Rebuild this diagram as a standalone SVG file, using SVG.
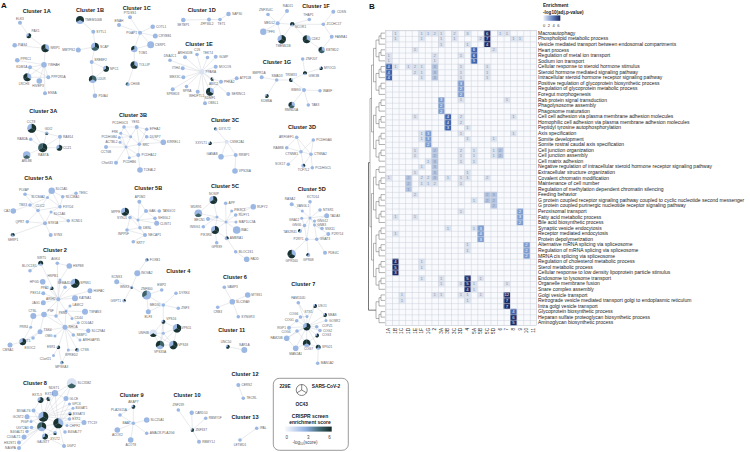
<svg xmlns="http://www.w3.org/2000/svg" width="750" height="452" viewBox="0 0 750 452">
<style>
text{font-family:"Liberation Sans",Arial,Helvetica,sans-serif}
.ttl{font-weight:bold;font-size:5.6px;fill:#1a1a1a;text-anchor:middle}
.pl{font-weight:bold;font-size:8px;fill:#111}
.ed path{stroke:#cdd1d7;stroke-width:.45;fill:none}
.nd circle{fill:#9bb7e3}
.nd circle.w{fill:#d8e2f3}
.nd text{font-size:3.2px;fill:#606469}
.nd text.m{text-anchor:middle}
.nd text.x{text-anchor:end}
.k{fill:#1b332e}
.g{fill:#3d6266}
.h1{fill:#dde4f0}.h2{fill:#b4c5e2}.h3{fill:#7d9dd2}.h4{fill:#4164ae}.h5{fill:#1c2b69}
.hv text{font-size:4.2px;text-anchor:middle;fill:#8592ad}
.hv text.w{fill:#fff}
.rl text{font-size:5px;fill:#222}
.cl text{font-size:4.6px;fill:#222;text-anchor:end}
.dg{stroke:#555;stroke-width:.45;fill:none}
.lg{font-weight:bold;font-size:4.8px;fill:#1a1a1a;text-anchor:middle}
.lt{font-size:4.5px;fill:#444;text-anchor:middle}
</style>
<defs>
<path id="wS" d="M0 0V-1A1 1 0 0 1 .866 .5Z"/>
<path id="wO" d="M0 0L.866 .5A1 1 0 0 1 -.866 .5Z"/>
<path id="w2" d="M0 0L-.866 .5A1 1 0 0 1 0 -1Z"/>
<linearGradient id="gA" x1="0" x2="1" y1="0" y2="0"><stop offset="0" stop-color="#f7f9fd"/><stop offset=".45" stop-color="#8eaee0"/><stop offset=".75" stop-color="#3f6670"/><stop offset="1" stop-color="#152a25"/></linearGradient>
<linearGradient id="gB" x1="0" x2="1" y1="0" y2="0"><stop offset="0" stop-color="#eef2f9"/><stop offset=".5" stop-color="#6c8cca"/><stop offset="1" stop-color="#17275f"/></linearGradient>
<pattern id="gp" x="385.5" y="30.3" width="6.56" height="5.57" patternUnits="userSpaceOnUse"><path d="M0 0H6.56M0 0V5.57" stroke="#c6cbd5" stroke-width=".9" fill="none"/></pattern>
</defs>
<rect width="750" height="452" fill="#fff"/>
<text class="pl" x="1" y="8">A</text>
<text class="pl" x="369" y="9">B</text>

<g id="titles">
<text class="ttl" x="36.7" y="12.7">Cluster 1A</text>
<text class="ttl" x="90" y="12.2">Cluster 1B</text>
<text class="ttl" x="136.7" y="9.5">Cluster 1C</text>
<text class="ttl" x="201.7" y="12.2">Cluster 1D</text>
<text class="ttl" x="199" y="45.5">Cluster 1E</text>
<text class="ttl" x="316" y="8">Cluster 1F</text>
<text class="ttl" x="277" y="63.8">Cluster 1G</text>
<text class="ttl" x="43.3" y="113">Cluster 3A</text>
<text class="ttl" x="133" y="117">Cluster 3B</text>
<text class="ttl" x="225" y="122">Cluster 3C</text>
<text class="ttl" x="302" y="128.7">Cluster 3D</text>
<text class="ttl" x="38.3" y="179.7">Cluster 5A</text>
<text class="ttl" x="148.3" y="189.7">Cluster 5B</text>
<text class="ttl" x="225" y="187.7">Cluster 5C</text>
<text class="ttl" x="311.7" y="191">Cluster 5D</text>
<text class="ttl" x="55" y="252">Cluster 2</text>
<text class="ttl" x="178.3" y="272.7">Cluster 4</text>
<text class="ttl" x="235" y="278.7">Cluster 6</text>
<text class="ttl" x="303.3" y="286.3">Cluster 7</text>
<text class="ttl" x="231.7" y="332">Cluster 11</text>
<text class="ttl" x="35" y="384.7">Cluster 8</text>
<text class="ttl" x="131.7" y="397">Cluster 9</text>
<text class="ttl" x="187" y="396.7">Cluster 10</text>
<text class="ttl" x="245" y="376">Cluster 12</text>
<text class="ttl" x="245" y="419.3">Cluster 13</text>
</g>

<g id="edges" class="ed">
<path d="M20 22.7L28.7 35.7L45.3 48.3M14.7 45.3L45.3 48.3L44 64.7L17.3 60.3M44 64.7L30 67.3L48.3 77.3M44 64.7L48.3 77.3M44 64.7L27.3 77.3L48.3 77.3M44 64.7L39.3 81M44 64.7L45 93.3M30 67.3L27.3 77.3"/>
<path d="M80 20L93.3 31.7L95 46.7L78.3 50M95 46.7L91.7 62L92.7 79.3L95 95.7M91.7 62L106 68.7L92.7 79.3"/>
<path d="M130 17.3L140 32.7L119 25M140 32.7L152.7 26.7M140 32.7L155.3 36M140 32.7L134.3 49L150.7 44.7M134.3 49L134.3 65L127.7 84.3M140 32.7L150.7 44.7"/>
<path d="M183.3 20L209 19.5L220 19.5L228.5 14"/>
<path d="M201.7 71.7L170 60.3M201.7 71.7L185 57.3M201.7 71.7L197 54.5M201.7 71.7L207.5 57.5M201.7 71.7L215.7 56.7M201.7 71.7L182.7 68.3M201.7 71.7L215.7 66.7M201.7 71.7L183.3 77.3M201.7 71.7L212.3 79M201.7 71.7L172.7 89.3M201.7 71.7L186.5 86.5M201.7 71.7L197.7 91.7M201.7 71.7L210 91.7M201.7 71.7L228.3 94M201.7 71.7L205 103.3M212.3 79L221 81.7L236.7 78.3M210 91.7L221 81.7M212.3 79L210 91.7"/>
<path d="M268 14.5L277.7 23.3L287 11M277.7 23.3L292.3 24.3L309.3 19.5M292.3 24.3L323.3 24.3L333.3 11.7M323.3 24.3L331.7 36.7L321.7 50M277.7 23.3L263.3 31.7M277.7 23.3L281.7 39.3M292.3 24.3L281.7 39.3M292.3 24.3L306.7 39.3L321.7 50"/>
<path d="M302.7 59L305 73.3L321 68.3M305 73.3L291 80L276.7 80L261.7 77.3M276.7 80L266.7 96M291 80L304 90L320 90.7M304 90L291.7 105M304 90L308.3 105"/>
<path d="M31.7 128.3L46.7 133.3L60 136.7L59.3 147.7L42.7 147.7L30.7 139.3M31.7 128.3L42.7 147.7M46.7 133.3L42.7 147.7L26.7 155M60 136.7L42.7 147.7"/>
<path d="M124 127L136.7 127L146.7 136.7L139.3 144.3L130.7 136.7L124 127L120.7 133.3L130.7 136.7L136.7 127L139.3 144.3L146.7 129.3L136.7 127M119.3 137.5L130.7 136.7L126 147L119.3 137.5M120 142.3L126 147L106 147M126 147L139.3 144.3L163.3 142.3M139.3 144.3L138.3 155L126 147L116 162.7M126 147L129.3 157.7L138.3 155L140 170M146.7 136.7L163.3 142.3M120.7 133.3L126 147"/>
<path d="M215.7 129L226.7 141.7L210 143.3M226.7 141.7L221 156.7L235.7 155L226.7 141.7M235.7 155L235 171"/>
<path d="M296.7 137.3L301 151.7L313.3 140L311 154.3L301 151.7L286.7 147.7M301 151.7L288.3 164.3M301 151.7L303.3 165.7L311 154.3L312.3 167.7M296.7 137.3L286.7 147.7M296.7 137.3L311 154.3"/>
<path d="M25 194.3L47.5 197.5L51.7 190.7L62.7 196.7L76 193.3M51.7 190.7L60 206.7L47.5 197.5L30 205L13.3 211M47.5 197.5L38 210.5L60 206.7L51 212L45 223.3L38 210.5L27.3 221.7L45 223.3L68.3 220.7L51 212M45 223.3L50.7 235M45 223.3L12.7 235M25 194.3L38 210.5M62.7 196.7L60 206.7M30 205L38 210.5"/>
<path d="M139.3 201.7L146 211L159.3 211M139.3 201.7L138 220L125 211.7M146 211L138 220L130 217.5L140 227.7L138 220L155 218.3L146 211M138 220L156.7 223.3L155 218.3M140 227.7L127 230L130 217.5M140 227.7L145 235L127 230M145 235L133.3 241.7"/>
<path d="M213.3 200L217 217L226 222L225.7 203.3M226 222L231.7 211L253.3 206.7L235.7 215L226 222L236 222M198.3 213.3L217 217L208 219M203.3 226.7L217 217M215 230L217 217M215 230L226 222L236.7 230M226 222L226.7 238.3L215 230L216.7 242.7M226.7 238.3L235.7 251.7L246.7 259.3M213.3 200L198.3 213.3M208 219L226 222"/>
<path d="M310 201.7L310 218L302.3 211L291.7 204.3M310 218L320 210M310 218L326.7 215.7L314.5 221M310 218L301.7 218.3L304.5 225.5L310 218L314.5 225L322 228.5L310 218M304.5 225.5L300 231M314.5 225L328.3 234L316.7 239.3L314.5 225M304.5 225.5L306.7 239.3L316.7 239.3L325 252.7M306.7 239.3L291.7 254M306.7 239.3L308.3 255M310 218L306.7 239.3M314.5 221L314.5 225"/>
<path d="M58.3 299.3L40.7 263.3M58.3 299.3L57.3 263.3M58.3 299.3L60 280M58.3 299.3L42.7 281.7M58.3 299.3L65 287.3M58.3 299.3L75 283.3M58.3 299.3L51.7 288.3M58.3 299.3L43.3 293.3M58.3 299.3L75 298.3M58.3 299.3L43.3 302.7M58.3 299.3L90 290.7M58.3 299.3L66 311M58.3 299.3L44 314.5M58.3 299.3L56 316M57.3 263.3L69.3 266M40.7 263.3L30 270.7M60 280L69.3 266M66 311L70 306M66 311L85 311.7M66 311L72 318.5M66 311L56 316M66 311L65 327.3M66 311L78.3 322.7M44 314.5L33.3 316M44 314.5L40 331.7M44 314.5L56 316M44 314.5L65 327.3M33.3 316L30.7 327.3M65 327.3L88.3 330.7M65 327.3L73.3 335M65 327.3L80 340M65 327.3L55 336M65 327.3L58.3 347.3M65 327.3L68.3 350M65 327.3L77.3 350M65 327.3L40 331.7M65 327.3L78.3 322.7M65 327.3L56 316M40 331.7L33 338M40 331.7L22.7 341.7L10 345M30.7 327.3L22.7 341.7M58.3 347.3L53.5 355.5M58.3 347.3L61.7 362.7M68.3 350L77.3 350M68.3 350L61.7 362.7"/>
<path d="M146.7 260L137.3 273.3L131.7 287.3L116.7 281.7M131.7 287.3L146.7 295L161.7 290M131.7 287.3L124 300.7M146.7 295L163.3 305L176 293.3M163.3 305L178.3 308.3M163.3 305L148.3 311.7L146.7 295M163.3 305L163.3 321.7M163.3 321.7L177 328.3L163.3 333.3L163.3 321.7L153.3 333.3L163.3 333.3L160 345L173.3 345L163.3 333.3M177 328.3L173.3 345M153.3 333.3L160 345M163.3 321.7L160 345M177 328.3L160 345M153.3 333.3L173.3 345"/>
<path d="M224.3 287.3L232.3 301.7L247.7 295M217.7 307.3L232.3 301.7L238.3 316.7M227.7 346.7L244.3 350"/>
<path d="M306.7 326.7L298.3 302.7M306.7 326.7L315 306M306.7 326.7L300.5 317M306.7 326.7L307 316.5M306.7 326.7L325 315M306.7 326.7L296.7 320.7M306.7 326.7L326 320.5M306.7 326.7L316.7 326.7M306.7 326.7L289 327.7M306.7 326.7L320 330.5M306.7 326.7L297 331M306.7 326.7L317 335.5M306.7 326.7L286.7 338.3M306.7 326.7L306.7 343.3M306.7 326.7L295.7 348.3M306.7 326.7L318.3 347.3M298.3 302.7L307 316.5L315 306L325 315L326 320.5M300.5 317L307 316.5M296.7 320.7L289 327.7M306.7 343.3L318.3 347.3L317.7 363.3M306.7 343.3L295.7 348.3L286.7 338.3L297 331L306.7 343.3L317 335.5L320 330.5L316.7 326.7M300.5 317L296.7 320.7"/>
<path d="M71.7 383.3L55 393.3L40.5 400L48.5 399L55 393.3L66 398.5L71.7 383.3M55 393.3L43.3 416.7M55 393.3L58.3 423.3M40.5 400L43.3 416.7L48.5 399L58.3 423.3L66 398.5L43.3 416.7M43.3 416.7L33.5 410.5M43.3 416.7L27 416.7M43.3 416.7L31 421.5M43.3 416.7L41.7 426.7M43.3 416.7L58.3 423.3M43.3 416.7L69.5 404M43.3 416.7L73 408.3M43.3 416.7L70 413.5M43.3 416.7L69.5 419M58.3 423.3L69.5 404M58.3 423.3L73 408.3M58.3 423.3L70 413.5M58.3 423.3L69.5 419M58.3 423.3L84 422.5M58.3 423.3L67 425.5M58.3 423.3L65 432M58.3 423.3L55 433M58.3 423.3L45 436.5M58.3 423.3L41.7 426.7M58.3 423.3L64 446M41.7 426.7L31.5 427.5M41.7 426.7L27 431.5M41.7 426.7L24 437M41.7 426.7L45 436.5M41.7 426.7L55 433M41.7 426.7L19 442.5M41.7 426.7L19 448M41.7 426.7L33.5 410.5M41.7 426.7L27 416.7M45 436.5L55 433M45 436.5L64 446M40.5 400L33.5 410.5M70 413.5L84 422.5M71.7 383.3L43.3 416.7"/>
<path d="M133.3 406.7L133.3 423.3L120 415M133.3 423.3L146.7 420M133.3 423.3L117.3 430M133.3 423.3L130.7 440M133.3 423.3L146.7 433.3M120 415L133.3 406.7"/>
<path d="M178.3 410L192.3 430L191.7 412.7M192.3 430L205.7 418.3M192.3 430L199 441.7M238.3 385L243.3 398.3M256.7 428.3L240 440"/>
</g>

<g id="nodes" class="nd">
<g id="n-ELK3"><circle cx="20" cy="22.7" r="2"/><text class="m" x="20" y="19.5">ELK3</text></g>
<g id="n-PAX1"><circle cx="28.7" cy="35.7" r="2.5"/><use href="#wS" transform="translate(28.7 35.7) scale(2.5)" class="k"/><use href="#wO" transform="translate(28.7 35.7) scale(2.5)" class="k"/><text x="31.5" y="31.5">PAX1</text></g>
<g id="n-PIAS4"><circle cx="14.7" cy="45.3" r="2.3"/><text x="18" y="46.4">PIAS4</text></g>
<g id="n-NRIP1"><circle cx="45.3" cy="48.3" r="4"/><use href="#w2" transform="translate(45.3 48.3) scale(4)" class="k"/><use href="#wO" transform="translate(45.3 48.3) scale(4)" class="k"/><text x="50.5" y="49.4">NRIP1</text></g>
<g id="n-PPRC1"><circle cx="17.3" cy="60.3" r="2.3"/><text x="20.5" y="59.5">PPRC1</text></g>
<g id="n-YWHAH"><circle cx="44" cy="64.7" r="2.8"/><text x="47.8" y="65.8">YWHAH</text></g>
<g id="n-KDM1A"><circle cx="30" cy="67.3" r="2"/><text class="x" x="27.3" y="68.4">KDM1A</text></g>
<g id="n-PPP2R5A"><circle cx="48.3" cy="77.3" r="2"/><text x="51.3" y="78.4">PPP2R5A</text></g>
<g id="n-LRCH3"><circle cx="27.3" cy="77.3" r="4"/><use href="#w2" transform="translate(27.3 77.3) scale(4)" class="k"/><use href="#wO" transform="translate(27.3 77.3) scale(4)" class="k"/><text class="m" x="24" y="84.5">LRCH3</text></g>
<g id="n-HIVEP3"><circle cx="39.3" cy="81" r="2.8"/><text class="m" x="38" y="87">HIVEP3</text></g>
<g id="n-ENSA"><circle cx="45" cy="93.3" r="2"/><text x="48" y="94.4">ENSA</text></g>

<g id="n-TMEM106B"><circle cx="80" cy="20" r="4"/><use href="#w2" transform="translate(80 20) scale(4)" class="k"/><use href="#wS" transform="translate(80 20) scale(4)" class="k"/><text x="85" y="21.1">TMEM106B</text></g>
<g id="n-SYTL1"><circle cx="93.3" cy="31.7" r="2"/><text x="96.3" y="32.8">SYTL1</text></g>
<g id="n-MBTPS2"><circle cx="78.3" cy="50" r="2.5"/><text class="x" x="75" y="51.1">MBTPS2</text></g>
<g id="n-SCAP"><circle cx="95" cy="46.7" r="4"/><use href="#wS" transform="translate(95 46.7) scale(4)" class="k"/><use href="#wO" transform="translate(95 46.7) scale(4)" class="g"/><text x="100" y="47.8">SCAP</text></g>
<g id="n-SREBF2"><circle cx="91.7" cy="62" r="2"/><text x="94.3" y="60.8">SREBF2</text></g>
<g id="n-NPC1"><circle cx="106" cy="68.7" r="3"/><use href="#wS" transform="translate(106 68.7) scale(3)" class="k"/><use href="#wO" transform="translate(106 68.7) scale(3)" class="k"/><text x="110" y="69.8">NPC1</text></g>
<g id="n-LDLR"><circle cx="92.7" cy="79.3" r="3.8"/><use href="#w2" transform="translate(92.7 79.3) scale(3.8)" class="k"/><use href="#wS" transform="translate(92.7 79.3) scale(3.8)" class="g"/><text x="97.5" y="80.4">LDLR</text></g>
<g id="n-PDIA4"><circle cx="95" cy="95.7" r="2.3"/><text x="98.5" y="96.8">PDIA4</text></g>

<g id="n-PTDSS1"><circle cx="130" cy="17.3" r="2"/><text class="m" x="130" y="14">PTDSS1</text></g>
<g id="n-ENAH"><circle cx="119" cy="25" r="2"/><text class="m" x="119" y="21.6">ENAH</text></g>
<g id="n-COTL1"><circle cx="152.7" cy="26.7" r="2.3"/><text x="156" y="27.8">COTL1</text></g>
<g id="n-PGAP1"><circle cx="140" cy="32.7" r="2"/><text class="x" x="137" y="33.8">PGAP1</text></g>
<g id="n-CRYBB1"><circle cx="155.3" cy="36" r="2.5"/><text x="158.6" y="37.1">CRYBB1</text></g>
<g id="n-CSRP1"><circle cx="150.7" cy="44.7" r="3.5"/><text x="155" y="45.8">CSRP1</text></g>
<g id="n-TOM1"><circle cx="134.3" cy="49" r="3.2"/><use href="#w2" transform="translate(134.3 49) scale(3.2)" class="k"/><text x="138.5" y="53.5">TOM1</text></g>
<g id="n-TOLLIP"><circle cx="134.3" cy="65" r="3.8"/><use href="#w2" transform="translate(134.3 65) scale(3.8)" class="k"/><use href="#wO" transform="translate(134.3 65) scale(3.8)" class="k"/><text x="139" y="66.1">TOLLIP</text></g>
<g id="n-CHGB"><circle cx="127.7" cy="84.3" r="2"/><use href="#w2" transform="translate(127.7 84.3) scale(2)" class="g"/><text x="130.5" y="85.4">CHGB</text></g>

<g id="n-SETBP1"><circle cx="183.3" cy="20" r="2.3"/><text class="m" x="183.3" y="25.6">SETBP1</text></g>
<g id="n-ZFP36L2"><circle cx="209" cy="19.5" r="2"/><text class="m" x="207" y="25">ZFP36L2</text></g>
<g id="n-TET1"><circle cx="220" cy="19.5" r="1.8"/><text class="m" x="221.5" y="25">TET1</text></g>
<g id="n-SAP30"><circle cx="228.5" cy="14" r="2.3"/><text x="232" y="15.1">SAP30</text></g>

<g id="n-PPARA"><circle class="w" cx="201.7" cy="71.7" r="2.5"/><text x="205.5" y="72.6">PPARA</text></g>
<g id="n-DNAJC1"><circle cx="170" cy="60.3" r="1.8"/><text class="m" x="170" y="56.8">DNAJC1</text></g>
<g id="n-ARHGDIB"><circle cx="185" cy="57.3" r="2"/><text class="m" x="185" y="53.6">ARHGDIB</text></g>
<g id="n-C1S"><circle cx="197" cy="54.5" r="1.8"/><text class="m" x="197" y="51">C1S</text></g>
<g id="n-TEKT4"><circle cx="207.5" cy="57.5" r="1.8"/><text class="m" x="208" y="54">TEKT4</text></g>
<g id="n-GLMP"><circle cx="215.7" cy="56.7" r="2"/><text x="219" y="57.8">GLMP</text></g>
<g id="n-ITIH4"><circle cx="182.7" cy="68.3" r="2"/><text class="x" x="179.8" y="69.4">ITIH4</text></g>
<g id="n-MOCOS"><circle cx="215.7" cy="66.7" r="2"/><text x="219" y="67.8">MOCOS</text></g>
<g id="n-MEX3C"><circle cx="183.3" cy="77.3" r="2"/><text class="x" x="180.5" y="78.4">MEX3C</text></g>
<g id="n-ASIC2"><circle class="w" cx="212.3" cy="79" r="1.8"/><use href="#w2" transform="translate(212.3 79) scale(1.8)" class="k"/><use href="#wO" transform="translate(212.3 79) scale(1.8)" class="k"/><text class="m" x="213.5" y="85">ASIC2</text></g>
<g id="n-PHKA2"><circle cx="221" cy="81.7" r="2"/><text x="224" y="82.8">PHKA2</text></g>
<g id="n-ATP11B"><circle cx="236.7" cy="78.3" r="2"/><text x="239.8" y="79.4">ATP11B</text></g>
<g id="n-SPRED3"><circle cx="172.7" cy="89.3" r="2"/><text class="m" x="173" y="95">SPRED3</text></g>
<g id="n-LBPRA"><circle cx="186.5" cy="86.5" r="1.8"/><text class="m" x="187" y="92">SPRA</text></g>
<g id="n-WDFTL1"><circle cx="197.7" cy="91.7" r="2"/><text class="m" x="196.5" y="97.4">WHDFTL1</text></g>
<g id="n-SDHAF1"><circle cx="210" cy="91.7" r="4"/><use href="#w2" transform="translate(210 91.7) scale(4)" class="k"/><use href="#wO" transform="translate(210 91.7) scale(4)" class="k"/><text class="m" x="210" y="98.8">SDMF1</text></g>
<g id="n-SERINC1"><circle cx="228.3" cy="94" r="2"/><text x="231.4" y="95.1">SERINC1</text></g>
<g id="n-OBSL1"><circle cx="205" cy="103.3" r="2"/><text x="208" y="104.4">OBSL1</text></g>

<g id="n-ZNF354C"><circle cx="268" cy="14.5" r="1.8"/><text class="m" x="266" y="10.6">ZNF354C</text></g>
<g id="n-RAD21"><circle cx="287" cy="11" r="2"/><text class="m" x="288" y="7.4">RAD21</text></g>
<g id="n-MED12"><circle cx="277.7" cy="23.3" r="2"/><text class="x" x="274.8" y="24.4">MED12</text></g>
<g id="n-TFF3"><circle cx="263.3" cy="31.7" r="3.2"/><text x="267" y="32.8">TFF3</text></g>
<g id="n-THAP1"><circle cx="309.3" cy="19.5" r="1.8"/><text class="m" x="308.5" y="15.6">THAP1</text></g>
<g id="n-NCOR1"><circle cx="292.3" cy="24.3" r="2.2"/><use href="#w2" transform="translate(292.3 24.3) scale(2.2)" class="k"/><use href="#wS" transform="translate(292.3 24.3) scale(2.2)" class="k"/><text x="295" y="28.3">NCOR1</text></g>
<g id="n-CDSN"><circle cx="333.3" cy="11.7" r="2"/><text x="337" y="12.8">CDSN</text></g>
<g id="n-ZCCHC17"><circle cx="323.3" cy="24.3" r="1.8"/><text x="326.5" y="25.4">ZCCHC17</text></g>
<g id="n-FAM8A1"><circle cx="331.7" cy="36.7" r="2"/><text x="335" y="37.8">FAM8A1</text></g>
<g id="n-TMEM41B"><circle cx="281.7" cy="39.3" r="4.2"/><use href="#wS" transform="translate(281.7 39.3) scale(4.2)" class="k"/><use href="#wO" transform="translate(281.7 39.3) scale(4.2)" class="k"/><text class="m" x="283" y="46.8">TMEM41B</text></g>
<g id="n-CDK2"><circle cx="306.7" cy="39.3" r="4"/><use href="#w2" transform="translate(306.7 39.3) scale(4)" class="k"/><use href="#wO" transform="translate(306.7 39.3) scale(4)" class="k"/><text x="311.5" y="40.4">CDK2</text></g>
<g id="n-KBTBD2"><circle cx="321.7" cy="50" r="3.2"/><use href="#w2" transform="translate(321.7 50) scale(3.2)" class="k"/><use href="#wO" transform="translate(321.7 50) scale(3.2)" class="g"/><text x="326" y="51.1">KBTBD2</text></g>

<g id="n-ZNF207"><circle cx="302.7" cy="59" r="1.8"/><text x="305.8" y="60.1">ZNF207</text></g>
<g id="n-MYOCD"><circle cx="321" cy="68.3" r="1.8"/><use href="#wS" transform="translate(321 68.3) scale(1.8)" class="k"/><use href="#wO" transform="translate(321 68.3) scale(1.8)" class="k"/><text x="324" y="69.4">MYOCD</text></g>
<g id="n-GSK3B"><circle cx="305" cy="73.3" r="2"/><use href="#w2" transform="translate(305 73.3) scale(2)" class="k"/><use href="#wS" transform="translate(305 73.3) scale(2)" class="k"/><text x="308.5" y="76.6">GSK3B</text></g>
<g id="n-BMPR1A"><circle cx="261.7" cy="77.3" r="2"/><text class="m" x="259" y="73.6">BMPR1A</text></g>
<g id="n-SMAD3"><circle cx="276.7" cy="80" r="1.8"/><text class="m" x="277" y="76.6">SMAD3</text></g>
<g id="n-TRIM33"><circle cx="291" cy="80" r="2"/><use href="#w2" transform="translate(291 80) scale(2)" class="k"/><use href="#wO" transform="translate(291 80) scale(2)" class="k"/><text class="m" x="291" y="76.4">TRIM33</text></g>
<g id="n-IKBKG"><circle cx="304" cy="90" r="2"/><text class="x" x="300.8" y="91.1">IKBKG</text></g>
<g id="n-WASF"><circle cx="320" cy="90.7" r="1.8"/><text x="323" y="91.8">WASF</text></g>
<g id="n-KDM6A"><circle cx="266.7" cy="96" r="2"/><use href="#wO" transform="translate(266.7 96) scale(2)" class="k"/><use href="#wS" transform="translate(266.7 96) scale(2)" class="k"/><text class="m" x="266.5" y="101.6">KDM6A</text></g>
<g id="n-RMND5A"><circle cx="291.7" cy="105" r="3.2"/><use href="#w2" transform="translate(291.7 105) scale(3.2)" class="k"/><use href="#wO" transform="translate(291.7 105) scale(3.2)" class="g"/><text class="m" x="291.5" y="111">RMND5A</text></g>
<g id="n-TAB3"><circle cx="308.3" cy="105" r="1.8"/><text x="311.5" y="106.1">TAB3</text></g>

<g id="n-CCT8"><circle cx="31.7" cy="128.3" r="4.5"/><use href="#wS" transform="translate(31.7 128.3) scale(4.5)" class="k"/><use href="#wO" transform="translate(31.7 128.3) scale(4.5)" class="k"/><text class="m" x="31" y="122.6">CCT8</text></g>
<g id="n-GDI2"><circle cx="46.7" cy="133.3" r="1.8"/><use href="#wO" transform="translate(46.7 133.3) scale(1.8)" class="g"/><text class="m" x="48.5" y="129.7">GDI2</text></g>
<g id="n-RAB14"><circle cx="60" cy="136.7" r="2"/><text x="63" y="137.8">RAB14</text></g>
<g id="n-RAB2A"><circle cx="30.7" cy="139.3" r="1.8"/><text class="x" x="27.7" y="140.4">RAB2A</text></g>
<g id="n-RAB7A"><circle cx="42.7" cy="147.7" r="4.5"/><use href="#wS" transform="translate(42.7 147.7) scale(4.5)" class="k"/><use href="#wO" transform="translate(42.7 147.7) scale(4.5)" class="k"/><use href="#w2" transform="translate(42.7 147.7) scale(4.5)" class="g"/><text class="m" x="43.3" y="155.6">RAB7A</text></g>
<g id="n-CCZ1"><circle cx="59.3" cy="147.7" r="3"/><use href="#wS" transform="translate(59.3 147.7) scale(3)" class="k"/><use href="#wO" transform="translate(59.3 147.7) scale(3)" class="k"/><text x="63" y="148.8">CCZ1</text></g>
<g id="n-ARL8B"><circle cx="26.7" cy="155" r="3.8"/><use href="#wO" transform="translate(26.7 155) scale(3.8)" class="g"/><text class="m" x="26.7" y="162.4">ARL8B</text></g>

<g id="n-PCDHGC3"><circle cx="124" cy="127" r="1.8"/><text class="m" x="120" y="123.6">PCDHGC3</text></g>
<g id="n-YES1"><circle cx="136.7" cy="127" r="2"/><text class="m" x="135.5" y="123.3">YES1</text></g>
<g id="n-EPHA2"><circle cx="146.7" cy="129.3" r="1.8"/><text x="149.8" y="130.4">EPHA2</text></g>
<g id="n-FRK"><circle cx="120.7" cy="133.3" r="1.5"/><text class="x" x="118.2" y="132.6">FRK</text></g>
<g id="n-PCDHGB4"><circle cx="119.3" cy="137.5" r="1.5"/><text class="x" x="116.8" y="138.3">PCDHGB4</text></g>
<g id="n-3Bx"><circle cx="130.7" cy="136.7" r="1.5"/></g>
<g id="n-DUSP7"><circle cx="146.7" cy="136.7" r="1.8"/><text x="149.8" y="137.8">DUSP7</text></g>
<g id="n-ACTBL2"><circle cx="120" cy="142.3" r="1.5"/><text class="x" x="117.5" y="143.4">ACTBL2</text></g>
<g id="n-KIRREL1"><circle cx="163.3" cy="142.3" r="2.8"/><text x="167" y="143.4">KIRREL1</text></g>
<g id="n-CCT6B"><circle cx="106" cy="147" r="2"/><text class="m" x="106" y="152.5">CCT6B</text></g>
<g id="n-3By"><circle cx="126" cy="147" r="1.5"/></g>
<g id="n-SRC"><circle cx="139.3" cy="144.3" r="1.8"/><text x="142.4" y="145.6">SRC</text></g>
<g id="n-PCDHA12"><circle cx="138.3" cy="155" r="2"/><text x="141.5" y="156.1">PCDHA12</text></g>
<g id="n-C9orf43"><circle cx="116" cy="162.7" r="2"/><text class="x" x="112.8" y="163.8">C9orf43</text></g>
<g id="n-PCDHB6"><circle cx="129.3" cy="157.7" r="1.5"/><text class="m" x="129.5" y="163">PCDHB6</text></g>
<g id="n-TCEAL2"><circle cx="140" cy="170" r="2.8"/><text x="143.6" y="171.1">TCEAL2</text></g>

<g id="n-DXYLT2"><circle cx="215.7" cy="129" r="1.8"/><use href="#w2" transform="translate(215.7 129) scale(1.8)" class="g"/><text x="218.8" y="130.1">DXYLT2</text></g>
<g id="n-CSNK2A1"><circle class="w" cx="226.7" cy="141.7" r="2"/><text x="229.8" y="142.5">CSNK2A1</text></g>
<g id="n-XXYLT1"><circle cx="210" cy="143.3" r="1.8"/><use href="#wS" transform="translate(210 143.3) scale(1.8)" class="k"/><use href="#wO" transform="translate(210 143.3) scale(1.8)" class="k"/><text class="x" x="207" y="144.4">XXYLT1</text></g>
<g id="n-GANAB"><circle cx="221" cy="156.7" r="2.8"/><text class="x" x="217.6" y="155">GANAB</text></g>
<g id="n-RRBP1"><circle cx="235.7" cy="155" r="2"/><text x="238.8" y="156.1">RRBP1</text></g>
<g id="n-VPS26A"><circle cx="235" cy="171" r="2.8"/><text x="238.8" y="172.1">VPS26A</text></g>

<g id="n-ARFGEF1"><circle cx="296.7" cy="137.3" r="1.8"/><text class="x" x="293.7" y="138.4">ARFGEF1</text></g>
<g id="n-PCDHGA6"><circle cx="313.3" cy="140" r="1.8"/><text x="316.3" y="141.1">PCDHGA6</text></g>
<g id="n-RAB8B"><circle cx="286.7" cy="147.7" r="1.8"/><text class="x" x="283.7" y="148.8">RAB8B</text></g>
<g id="n-CTNNB1"><circle cx="301" cy="151.7" r="1.8"/><text class="x" x="298" y="155">CTNNB1</text></g>
<g id="n-CTNNA2"><circle cx="311" cy="154.3" r="1.8"/><text x="314" y="155.4">CTNNA2</text></g>
<g id="n-SOX17"><circle cx="288.3" cy="164.3" r="1.8"/><text class="x" x="285.3" y="165.4">SOX17</text></g>
<g id="n-TCF7L2"><circle cx="303.3" cy="165.7" r="2"/><use href="#wS" transform="translate(303.3 165.7) scale(2)" class="k"/><text class="m" x="303.5" y="171.3">TCF7L2</text></g>
<g id="n-PCDHGC5"><circle cx="312.3" cy="167.7" r="1.8"/><text x="315.3" y="168.8">PCDHGC5</text></g>

<g id="n-PLVAP"><circle cx="25" cy="194.3" r="1.8"/><text class="m" x="24" y="190.7">PLVAP</text></g>
<g id="n-SLC5A5"><circle cx="51.7" cy="190.7" r="3.2"/><text x="55.5" y="190.3">SLC5A5</text></g>
<g id="n-SLC34A2"><circle cx="47.5" cy="197.5" r="1.5"/><text class="x" x="44.8" y="198">SLC34A2</text></g>
<g id="n-SLC38A1"><circle cx="62.7" cy="196.7" r="1.8"/><text x="65.8" y="197.8">SLC38A1</text></g>
<g id="n-TESC"><circle cx="76" cy="193.3" r="1.8"/><text x="79" y="194.4">TESC</text></g>
<g id="n-TBX3"><circle cx="30" cy="205" r="1.8"/><text class="x" x="27" y="205.6">TBX3</text></g>
<g id="n-CLIC2"><circle cx="38" cy="210.5" r="1.8"/><text class="m" x="40" y="206.8">CLIC2</text></g>
<g id="n-FXYD4"><circle cx="60" cy="206.7" r="1.8"/><text x="63" y="207.8">FXYD4</text></g>
<g id="n-CA2"><circle cx="13.3" cy="211" r="2.8"/><text class="x" x="10" y="212.1">CA2</text></g>
<g id="n-SLC1A6"><circle cx="51" cy="212" r="1.5"/><text x="53.5" y="214.8">SLC1A6</text></g>
<g id="n-QPRT"><circle cx="27.3" cy="221.7" r="1.8"/><text class="x" x="24.3" y="222.8">QPRT</text></g>
<g id="n-STX1A"><circle cx="45" cy="223.3" r="2"/><text x="48" y="224.4">STX1A</text></g>
<g id="n-KCND1"><circle cx="68.3" cy="220.7" r="1.8"/><text x="71.4" y="221.8">KCND1</text></g>
<g id="n-SYN3"><circle cx="50.7" cy="235" r="2"/><text x="53.8" y="236.1">SYN3</text></g>
<g id="n-SERP1"><circle cx="12.7" cy="235" r="2"/><use href="#wS" transform="translate(12.7 235) scale(2)" class="k"/><use href="#w2" transform="translate(12.7 235) scale(2)" class="g"/><text class="m" x="13" y="240.6">SERP1</text></g>

<g id="n-AP1M2"><circle cx="139.3" cy="201.7" r="2"/><text class="m" x="140" y="197.5">AP1M2</text></g>
<g id="n-MPPE"><circle cx="125" cy="211.7" r="4"/><use href="#wS" transform="translate(125 211.7) scale(4)" class="k"/><use href="#wO" transform="translate(125 211.7) scale(4)" class="k"/><text class="x" x="120.3" y="212.8">MPPE</text></g>
<g id="n-GAK"><circle cx="146" cy="211" r="2"/><text x="149" y="212.1">GAK</text></g>
<g id="n-TANGO2"><circle cx="159.3" cy="211" r="1.8"/><text x="162.4" y="212.1">TANGO2</text></g>
<g id="n-5Bh"><circle cx="138" cy="220" r="1.5"/></g>
<g id="n-SYNJ1"><circle cx="130" cy="217.5" r="1.8"/><text class="x" x="127" y="219">SYNJ1</text></g>
<g id="n-SH3GL2"><circle cx="155" cy="218.3" r="1.8"/><text x="158" y="219.2">SH3GL2</text></g>
<g id="n-CLINT1"><circle cx="156.7" cy="223.3" r="2.5"/><text x="160" y="224.6">CLINT1</text></g>
<g id="n-DBNL"><circle cx="140" cy="227.7" r="1.8"/><text x="143" y="228.8">DBNL</text></g>
<g id="n-INPP5F"><circle cx="127" cy="230" r="1.8"/><text class="m" x="123.5" y="234.8">INPP5F</text></g>
<g id="n-NECAP1"><circle cx="145" cy="235" r="2"/><text x="148.3" y="236.1">NECAP1</text></g>
<g id="n-KRT7"><circle cx="133.3" cy="241.7" r="1.8"/><text x="136.4" y="244">KRT7</text></g>

<g id="n-NOSIP"><circle cx="213.3" cy="200" r="4"/><use href="#wS" transform="translate(213.3 200) scale(4)" class="k"/><use href="#wO" transform="translate(213.3 200) scale(4)" class="k"/><text class="m" x="214" y="194.6">NOSIP</text></g>
<g id="n-APP"><circle cx="225.7" cy="203.3" r="1.8"/><text x="228.6" y="204.2">APP</text></g>
<g id="n-PIK3C3"><circle cx="231.7" cy="211" r="1.5"/><text x="234.3" y="210.5">PIK3C3</text></g>
<g id="n-RUFY2"><circle cx="253.3" cy="206.7" r="2.8"/><text x="257" y="207.8">RUFY2</text></g>
<g id="n-WDR91"><circle cx="198.3" cy="213.3" r="3.8"/><use href="#wO" transform="translate(198.3 213.3) scale(3.8)" class="g"/><text class="m" x="196" y="208.4">WDR91</text></g>
<g id="n-RUFY1"><circle cx="235.7" cy="215" r="1.8"/><text x="238.8" y="216.1">RUFY1</text></g>
<g id="n-5Ch"><circle cx="217" cy="217" r="1.5"/></g>
<g id="n-5Cc"><circle cx="226" cy="222" r="1.5"/></g>
<g id="n-BECN1"><circle cx="208" cy="219" r="2"/><text class="x" x="204.8" y="220.6">BECN1</text></g>
<g id="n-MAP1LC3A"><circle cx="236" cy="222" r="1.5"/><text x="238.8" y="223.4">MAP1LC3A</text></g>
<g id="n-INSIG1"><circle cx="203.3" cy="226.7" r="1.8"/><text class="x" x="200.3" y="227.6">INSIG1</text></g>
<g id="n-PIK3R4"><circle cx="215" cy="230" r="4"/><use href="#wS" transform="translate(215 230) scale(4)" class="k"/><use href="#wO" transform="translate(215 230) scale(4)" class="k"/><text class="m" x="206" y="236.2">PIK3R4</text></g>
<g id="n-WAC"><circle cx="236.7" cy="230" r="3.8"/><text x="241" y="231.1">WAC</text></g>
<g id="n-AMBRA1"><circle cx="226.7" cy="238.3" r="2"/><use href="#wS" transform="translate(226.7 238.3) scale(2)" class="k"/><text x="229.8" y="239.4">AMBRA1</text></g>
<g id="n-GPR89"><circle cx="216.7" cy="242.7" r="1.8"/><text class="m" x="216.7" y="248.2">GPR89</text></g>
<g id="n-BLOC1S1"><circle cx="235.7" cy="251.7" r="1.8"/><text x="238.8" y="252.8">BLOC1S1</text></g>
<g id="n-FADD"><circle cx="246.7" cy="259.3" r="2.8"/><text x="250.4" y="260.4">FADD</text></g>

<g id="n-KCTD14"><circle cx="310" cy="201.7" r="1.8"/><text class="m" x="313" y="197.8">KCTD14</text></g>
<g id="n-RASA2"><circle cx="291.7" cy="204.3" r="2"/><text class="m" x="290" y="200.4">RASA2</text></g>
<g id="n-VANGL1"><circle cx="302.3" cy="211" r="1.5"/><text class="m" x="303" y="207.3">VANGL1</text></g>
<g id="n-NTSR1"><circle cx="320" cy="210" r="1.8"/><text x="323" y="211.1">NTSR1</text></g>
<g id="n-TADA3"><circle cx="326.7" cy="215.7" r="2.5"/><text x="330" y="216.8">TADA3</text></g>
<g id="n-5Dh"><circle cx="310" cy="218" r="1.5"/></g>
<g id="n-GNA12"><circle cx="301.7" cy="218.3" r="1.5"/><text class="x" x="299.4" y="220.5">GNA12</text></g>
<g id="n-GNG12"><circle cx="314.5" cy="221" r="1.5"/><text x="317.3" y="221.9">GNG12</text></g>
<g id="n-GNB3"><circle cx="314.5" cy="225" r="1.5"/><text x="317.3" y="226.1">GNB3</text></g>
<g id="n-GNG5"><circle cx="304.5" cy="225.5" r="1.8"/><text class="x" x="301.4" y="226.4">GNG5</text></g>
<g id="n-SNX11"><circle cx="322" cy="228.5" r="1.8"/><text x="325" y="229.6">SNX11</text></g>
<g id="n-TAS2R41"><circle cx="300" cy="231" r="2"/><use href="#w2" transform="translate(300 231) scale(2)" class="k"/><text class="x" x="296.8" y="232.5">TAS2R41</text></g>
<g id="n-P2RY14"><circle cx="328.3" cy="234" r="2"/><text x="331.5" y="235.1">P2RY14</text></g>
<g id="n-P2RY1"><circle cx="306.7" cy="239.3" r="1.8"/><text class="x" x="303.6" y="240.4">P2RY1</text></g>
<g id="n-GNAT3"><circle cx="316.7" cy="239.3" r="1.8"/><text x="319.7" y="240.4">GNAT3</text></g>
<g id="n-GPR160"><circle cx="291.7" cy="254" r="4.2"/><use href="#w2" transform="translate(291.7 254) scale(4.2)" class="k"/><use href="#wO" transform="translate(291.7 254) scale(4.2)" class="k"/><text class="m" x="291.7" y="261.5">GPR160</text></g>
<g id="n-GPR68"><circle cx="308.3" cy="255" r="2"/><use href="#w2" transform="translate(308.3 255) scale(2)" class="k"/><text class="m" x="308.3" y="260.6">GPR68</text></g>
<g id="n-PDE4C"><circle cx="325" cy="252.7" r="2"/><text x="328.2" y="253.8">PDE4C</text></g>

<g id="n-SIRT5"><circle cx="40.7" cy="263.3" r="2.5"/><use href="#w2" transform="translate(40.7 263.3) scale(2.5)" class="k"/><use href="#wS" transform="translate(40.7 263.3) scale(2.5)" class="k"/><text class="m" x="41.5" y="259.3">SIRT5</text></g>
<g id="n-AGK4"><circle cx="57.3" cy="263.3" r="1.8"/><text class="m" x="55.5" y="259.6">AGK4</text></g>
<g id="n-HSPB8"><circle cx="69.3" cy="266" r="2.8"/><text x="73" y="267.1">HSPB8</text></g>
<g id="n-BLOC1S5"><circle cx="30" cy="270.7" r="1.8"/><text class="m" x="29.3" y="267.3">BLOC1S5</text></g>
<g id="n-HSPB1"><circle cx="60" cy="280" r="1.5"/><text class="x" x="58" y="277.3">HSPB1</text></g>
<g id="n-HPGD"><circle cx="42.7" cy="281.7" r="2.8"/><text class="x" x="39" y="283">HPGD</text></g>
<g id="n-SEMA4D"><circle cx="65" cy="287.3" r="1.8"/><text class="m" x="64" y="283.6">SEMA4D</text></g>
<g id="n-SPNS1"><circle cx="75" cy="283.3" r="4.5"/><use href="#wS" transform="translate(75 283.3) scale(4.5)" class="k"/><use href="#wO" transform="translate(75 283.3) scale(4.5)" class="k"/><text x="80.3" y="284.4">SPNS1</text></g>
<g id="n-PPA2"><circle cx="51.7" cy="288.3" r="1.8"/><use href="#wS" transform="translate(51.7 288.3) scale(1.8)" class="k"/><use href="#wO" transform="translate(51.7 288.3) scale(1.8)" class="k"/><text class="x" x="48.6" y="289.4">PPA2</text></g>
<g id="n-PEX14"><circle cx="43.3" cy="293.3" r="2"/><text class="x" x="40.2" y="294.4">PEX14</text></g>
<g id="n-HGFAC"><circle cx="90" cy="290.7" r="2.5"/><text x="93.4" y="291.8">HGFAC</text></g>
<g id="n-ARIH2"><circle cx="58.3" cy="299.3" r="2"/><text class="x" x="55.5" y="299.6">ARIH2</text></g>
<g id="n-KATNA1"><circle cx="75" cy="298.3" r="3"/><text x="79" y="299.4">KATNA1</text></g>
<g id="n-LAMC2"><circle cx="70" cy="306" r="1.5"/><text x="72.6" y="305.8">LAMC2</text></g>
<g id="n-JAG1"><circle cx="43.3" cy="302.7" r="2.5"/><text class="x" x="39.8" y="303.8">JAG1</text></g>
<g id="n-2h1"><circle cx="66" cy="311" r="1.5"/></g>
<g id="n-TSPAN3"><circle cx="85" cy="311.7" r="3"/><text x="89" y="312.8">TSPAN3</text></g>
<g id="n-CD44"><circle cx="72" cy="318.5" r="1.5"/><text x="74.6" y="318.6">CD44</text></g>
<g id="n-PKN1"><circle cx="56" cy="316" r="1.8"/><text x="58.8" y="313.6">PKN1</text></g>
<g id="n-PSF"><circle cx="44" cy="314.5" r="2.8"/><text x="47.6" y="312.2">PSF</text></g>
<g id="n-CTSL"><circle cx="33.3" cy="316" r="3"/><text class="m" x="32.5" y="311.6">CTSL</text></g>
<g id="n-COL6A2"><circle cx="78.3" cy="322.7" r="1.5"/><text x="81" y="323.8">COL6A2</text></g>
<g id="n-PRR4"><circle cx="30.7" cy="327.3" r="1.5"/><text class="x" x="28" y="328.4">PRR4</text></g>
<g id="n-TSK4"><circle cx="40" cy="331.7" r="2.5"/><text x="43.6" y="330.6">TSK4</text></g>
<g id="n-RHOA"><circle cx="65" cy="327.3" r="2.5"/><text x="68.5" y="328.4">RHOA</text></g>
<g id="n-SLC29A4"><circle cx="88.3" cy="330.7" r="2.2"/><text x="91.5" y="331.8">SLC29A4</text></g>
<g id="n-CNOT1"><circle cx="33" cy="338" r="1.8"/><text class="x" x="30.5" y="341.6">CNOT1</text></g>
<g id="n-OMG"><circle cx="55" cy="336" r="1.5"/><text class="x" x="52.6" y="337.1">OMG</text></g>
<g id="n-SBBP1"><circle cx="73.3" cy="335" r="1.8"/><text x="76.4" y="336.1">SBBP1</text></g>
<g id="n-ARHGAP35"><circle cx="80" cy="340" r="1.5"/><text x="82.8" y="341.1">ARHGAP35</text></g>
<g id="n-EXOC2"><circle cx="22.7" cy="341.7" r="3.5"/><use href="#wS" transform="translate(22.7 341.7) scale(3.5)" class="k"/><use href="#wO" transform="translate(22.7 341.7) scale(3.5)" class="k"/><text x="24.5" y="348.6">EXOC2</text></g>
<g id="n-CMSA1"><circle cx="10" cy="345" r="2.5"/><text class="m" x="8" y="350.6">CMSA1</text></g>
<g id="n-ESR1"><circle cx="58.3" cy="347.3" r="1.8"/><use href="#wS" transform="translate(58.3 347.3) scale(1.8)" class="k"/><use href="#wO" transform="translate(58.3 347.3) scale(1.8)" class="k"/><text class="x" x="55.3" y="348.4">ESR1</text></g>
<g id="n-SPRED2"><circle cx="68.3" cy="350" r="1.5"/><text class="m" x="71.5" y="355.6">SPRED2</text></g>
<g id="n-CTSS"><circle cx="77.3" cy="350" r="2"/><use href="#w2" transform="translate(77.3 350) scale(2)" class="k"/><text x="80.4" y="351.1">CTSS</text></g>
<g id="n-C1orf21"><circle cx="53.5" cy="355.5" r="1.5"/><text class="x" x="51" y="360">C1orf21</text></g>
<g id="n-MPSKA3"><circle cx="61.7" cy="362.7" r="1.8"/><use href="#wS" transform="translate(61.7 362.7) scale(1.8)" class="g"/><text class="m" x="61.7" y="368.2">MPSKA3</text></g>

<g id="n-FOXB1"><circle cx="146.7" cy="260" r="1.8"/><use href="#wS" transform="translate(146.7 260) scale(1.8)" class="g"/><text x="149.8" y="261.1">FOXB1</text></g>
<g id="n-INOVA2"><circle cx="137.3" cy="273.3" r="3"/><text x="141" y="274.4">INOVA2</text></g>
<g id="n-KCNS3"><circle cx="116.7" cy="281.7" r="2.5"/><text class="m" x="116.7" y="277.7">KCNS3</text></g>
<g id="n-WNK3"><circle cx="131.7" cy="287.3" r="1.5"/><use href="#wO" transform="translate(131.7 287.3) scale(1.5)" class="k"/><text class="x" x="129.3" y="288.4">WNK3</text></g>
<g id="n-ZNF800"><circle cx="146.7" cy="295" r="4.5"/><use href="#w2" transform="translate(146.7 295) scale(4.5)" class="g"/><text class="m" x="146.7" y="289.6">ZNF800</text></g>
<g id="n-EMP2"><circle cx="161.7" cy="290" r="1.8"/><text class="m" x="161.7" y="286">EMP2</text></g>
<g id="n-GSPT1"><circle cx="124" cy="300.7" r="1.8"/><use href="#wS" transform="translate(124 300.7) scale(1.8)" class="k"/><text class="x" x="121" y="301.8">GSPT1</text></g>
<g id="n-DYRK4"><circle cx="176" cy="293.3" r="1.8"/><text x="179" y="294.4">DYRK4</text></g>
<g id="n-MED30"><circle cx="163.3" cy="305" r="1.8"/><text class="x" x="160.3" y="306.1">MED30</text></g>
<g id="n-ZNF3"><circle cx="178.3" cy="308.3" r="1.8"/><text x="181.3" y="309.4">ZNF3</text></g>
<g id="n-ELF3"><circle cx="148.3" cy="311.7" r="2.5"/><text class="m" x="148.3" y="317.6">ELF3</text></g>
<g id="n-VPS16"><circle cx="163.3" cy="321.7" r="2"/><use href="#wS" transform="translate(163.3 321.7) scale(2)" class="k"/><use href="#wO" transform="translate(163.3 321.7) scale(2)" class="k"/><text x="166.3" y="319.8">VPS16</text></g>
<g id="n-VPS11"><circle cx="177" cy="328.3" r="4.2"/><use href="#wS" transform="translate(177 328.3) scale(4.2)" class="k"/><use href="#wO" transform="translate(177 328.3) scale(4.2)" class="k"/><text x="181.6" y="329.4">VPS11</text></g>
<g id="n-UNF4B"><circle class="w" cx="153.3" cy="333.3" r="3.8"/><use href="#wO" transform="translate(153.3 333.3) scale(3.8)" class="k"/><text class="x" x="149" y="334.4">UNF4B</text></g>
<g id="n-4h"><circle cx="163.3" cy="333.3" r="1.5"/></g>
<g id="n-VPS33A"><circle cx="160" cy="345" r="4.2"/><use href="#w2" transform="translate(160 345) scale(4.2)" class="k"/><use href="#wS" transform="translate(160 345) scale(4.2)" class="g"/><text class="m" x="160" y="352.7">VPS33A</text></g>
<g id="n-VPS18"><circle cx="173.3" cy="345" r="4.2"/><use href="#wS" transform="translate(173.3 345) scale(4.2)" class="k"/><use href="#wO" transform="translate(173.3 345) scale(4.2)" class="k"/><text x="178.2" y="346.1">VPS18</text></g>

<g id="n-VAMP3"><circle cx="224.3" cy="287.3" r="1.8"/><text x="227.3" y="288.4">VAMP3</text></g>
<g id="n-MTSS1"><circle cx="247.7" cy="295" r="2.8"/><text x="251.3" y="296.1">MTSS1</text></g>
<g id="n-SLC39A9"><circle cx="232.3" cy="301.7" r="2.8"/><text x="236" y="302.8">SLC39A9</text></g>
<g id="n-CRB3"><circle cx="217.7" cy="307.3" r="1.8"/><text class="m" x="217.7" y="312.8">CRB3</text></g>
<g id="n-SYNGR3"><circle cx="238.3" cy="316.7" r="1.8"/><text x="241.3" y="317.8">SYNGR3</text></g>
<g id="n-UNC50"><circle cx="227.7" cy="346.7" r="2"/><use href="#wS" transform="translate(227.7 346.7) scale(2)" class="k"/><use href="#wO" transform="translate(227.7 346.7) scale(2)" class="k"/><text class="m" x="226" y="342.6">UNC50</text></g>
<g id="n-SAR1A"><circle cx="244.3" cy="350" r="3"/><text class="m" x="244.3" y="345.6">SAR1A</text></g>

<g id="n-FAM110D"><circle cx="298.3" cy="302.7" r="1.8"/><text class="m" x="298.3" y="299.2">FAM110D</text></g>
<g id="n-USO1"><circle cx="315" cy="306" r="2"/><use href="#wS" transform="translate(315 306) scale(2)" class="k"/><use href="#wO" transform="translate(315 306) scale(2)" class="k"/><text x="318" y="306.9">USO1</text></g>
<g id="n-COG6"><circle cx="300.5" cy="317" r="1.8"/><text class="x" x="298.2" y="314.6">COG6</text></g>
<g id="n-STX5"><circle cx="307" cy="316.5" r="1.5"/><text class="m" x="308.5" y="313.2">STX5</text></g>
<g id="n-NBAS"><circle cx="325" cy="315" r="2"/><use href="#wS" transform="translate(325 315) scale(2)" class="k"/><use href="#wO" transform="translate(325 315) scale(2)" class="k"/><text x="328" y="316.1">NBAS</text></g>
<g id="n-COG1"><circle cx="296.7" cy="320.7" r="1.8"/><text class="x" x="293.7" y="321.3">COG1</text></g>
<g id="n-GOSR2"><circle cx="326" cy="320.5" r="1.5"/><text x="329" y="321.6">GOSR2</text></g>
<g id="n-COPZ1"><circle cx="316.7" cy="326.7" r="1.8"/><text x="322" y="327.2">COPZ1</text></g>
<g id="n-RGP1"><circle cx="289" cy="327.7" r="2"/><text class="x" x="286" y="328.8">RGP1</text></g>
<g id="n-COG8"><circle cx="306.7" cy="326.7" r="3.8"/><use href="#wS" transform="translate(306.7 326.7) scale(3.8)" class="k"/><use href="#wO" transform="translate(306.7 326.7) scale(3.8)" class="k"/></g>
<g id="n-COG2"><circle cx="320" cy="330.5" r="1.8"/><text x="323" y="331.6">COG2</text></g>
<g id="n-COG4"><circle cx="297" cy="331" r="1.8"/><text class="x" x="290.5" y="333">COG4</text></g>
<g id="n-COG3"><circle cx="317" cy="335.5" r="2"/><use href="#wS" transform="translate(317 335.5) scale(2)" class="k"/><use href="#wO" transform="translate(317 335.5) scale(2)" class="k"/><text x="322" y="336.4">COG3</text></g>
<g id="n-FAM20B"><circle cx="286.7" cy="338.3" r="2.8"/><text class="x" x="282.7" y="339.4">FAM20B</text></g>
<g id="n-COG7"><circle cx="306.7" cy="343.3" r="3.8"/><use href="#w2" transform="translate(306.7 343.3) scale(3.8)" class="k"/><use href="#wS" transform="translate(306.7 343.3) scale(3.8)" class="k"/><text class="m" x="308.5" y="350.4">COG7</text></g>
<g id="n-SPG21"><circle cx="318.3" cy="347.3" r="2.5"/><use href="#w2" transform="translate(318.3 347.3) scale(2.5)" class="k"/><use href="#wS" transform="translate(318.3 347.3) scale(2.5)" class="g"/><text x="322" y="348.4">SPG21</text></g>
<g id="n-MAN2A1"><circle cx="295.7" cy="348.3" r="2.8"/><text class="m" x="295.7" y="354.6">MAN2A1</text></g>
<g id="n-MAN1A2"><circle cx="317.7" cy="363.3" r="1.8"/><text x="320.8" y="364.4">MAN1A2</text></g>

<g id="n-SLC35B2"><circle class="w" cx="71.7" cy="383.3" r="5"/><use href="#wO" transform="translate(71.7 383.3) scale(5)" class="g"/><text x="77.5" y="384.4">SLC35B2</text></g>
<g id="n-NDST1"><circle cx="55" cy="393.3" r="3.2"/><text class="m" x="54" y="388.7">NDST1</text></g>
<g id="n-EXTL3"><circle cx="40.5" cy="400" r="3"/><use href="#wS" transform="translate(40.5 400) scale(3)" class="k"/><use href="#wO" transform="translate(40.5 400) scale(3)" class="k"/><text class="m" x="37" y="396">EXTL3</text></g>
<g id="n-EXT1"><circle cx="48.5" cy="399" r="2"/><use href="#w2" transform="translate(48.5 399) scale(2)" class="k"/><use href="#wO" transform="translate(48.5 399) scale(2)" class="k"/><text class="m" x="49" y="395.3">EXT1</text></g>
<g id="n-GLCE"><circle cx="66" cy="398.5" r="2.5"/><text x="69.5" y="399.6">GLCE</text></g>
<g id="n-GPC6"><circle cx="69.5" cy="404" r="1.5"/><text x="72" y="405.1">GPC6</text></g>
<g id="n-B4GAT1"><circle cx="73" cy="408.3" r="1.5"/><text x="75.5" y="409.4">B4GAT1</text></g>
<g id="n-B3GALT6"><circle cx="33.5" cy="410.5" r="2"/><text class="x" x="30.5" y="411.6">B3GALT6</text></g>
<g id="n-B3GAT3"><circle cx="70" cy="413.5" r="1.8"/><use href="#wO" transform="translate(70 413.5) scale(1.8)" class="k"/><text x="72.8" y="414.6">B3GAT3</text></g>
<g id="n-8D1"><circle cx="43.3" cy="416.7" r="5"/><use href="#wS" transform="translate(43.3 416.7) scale(5)" class="k"/><use href="#wO" transform="translate(43.3 416.7) scale(5)" class="k"/></g>
<g id="n-GCNT2"><circle cx="27" cy="416.7" r="2.5"/><text class="x" x="23.6" y="417.8">GCNT2</text></g>
<g id="n-EXT2"><circle cx="69.5" cy="419" r="1.8"/><text x="72.3" y="420.1">EXT2</text></g>
<g id="n-PIGP"><circle cx="31" cy="421.5" r="1.5"/><text class="x" x="28.6" y="422.6">PIGP</text></g>
<g id="n-TTC19"><circle cx="84" cy="422.5" r="2.5"/><text x="87.4" y="423.6">TTC19</text></g>
<g id="n-8D2"><circle cx="58.3" cy="423.3" r="5"/><use href="#w2" transform="translate(58.3 423.3) scale(5)" class="k"/><use href="#wO" transform="translate(58.3 423.3) scale(5)" class="k"/></g>
<g id="n-CHPF2"><circle cx="67" cy="425.5" r="1.5"/><text x="69.5" y="426.6">CHPF2</text></g>
<g id="n-8D3"><circle cx="41.7" cy="426.7" r="4.5"/><use href="#wS" transform="translate(41.7 426.7) scale(4.5)" class="k"/><use href="#w2" transform="translate(41.7 426.7) scale(4.5)" class="g"/></g>
<g id="n-UGT2A3"><circle cx="31.5" cy="427.5" r="1.8"/><text class="x" x="28.6" y="428.6">UGT2A3</text></g>
<g id="n-B4GALT1"><circle cx="27" cy="431.5" r="1.8"/><text class="x" x="24.1" y="432.6">B4GALT1</text></g>
<g id="n-B4GALT7"><circle cx="65" cy="432" r="1.8"/><text x="67.8" y="433.1">B4GALT7</text></g>
<g id="n-XYLT2"><circle cx="55" cy="433" r="2"/><use href="#wO" transform="translate(55 433) scale(2)" class="k"/><text class="m" x="55" y="439.6">XYLT2</text></g>
<g id="n-GALNT7"><circle cx="45" cy="436.5" r="3"/><use href="#wS" transform="translate(45 436.5) scale(3)" class="k"/><use href="#wO" transform="translate(45 436.5) scale(3)" class="k"/><text class="m" x="43" y="443.4">GALNT7</text></g>
<g id="n-C1GALT1"><circle cx="24" cy="437" r="2.5"/><text class="x" x="20.6" y="438.1">C1GALT1</text></g>
<g id="n-HS2ST1"><circle cx="19" cy="442.5" r="2"/><text class="x" x="16" y="443.6">HS2ST1</text></g>
<g id="n-NAGPA"><circle cx="19" cy="448" r="2"/><text class="x" x="16" y="449.1">NAGPA</text></g>
<g id="n-UGP2"><circle cx="64" cy="446" r="2"/><text x="67" y="447.1">UGP2</text></g>

<g id="n-AKAP7"><circle cx="133.3" cy="406.7" r="2"/><use href="#wS" transform="translate(133.3 406.7) scale(2)" class="k"/><use href="#wO" transform="translate(133.3 406.7) scale(2)" class="k"/><text class="m" x="133.3" y="403">AKAP7</text></g>
<g id="n-PLA2G15A"><circle cx="120" cy="415" r="1.8"/><text class="m" x="119" y="411.4">PLA2G15A</text></g>
<g id="n-SLC25A1"><circle cx="146.7" cy="420" r="2.8"/><text x="150.4" y="421.1">SLC25A1</text></g>
<g id="n-BAAT"><circle cx="133.3" cy="423.3" r="1.8"/><text class="x" x="130.6" y="424.4">BAAT</text></g>
<g id="n-ACOX2"><circle cx="117.3" cy="430" r="2.8"/><text class="m" x="117.3" y="436.3">ACOX2</text></g>
<g id="n-ACOT8"><circle cx="130.7" cy="440" r="2.8"/><text class="m" x="130.7" y="446.4">ACOT8</text></g>
<g id="n-AMACR-PLA2G6"><circle cx="146.7" cy="433.3" r="1.8"/><text x="149.8" y="434.4">AMACR-PLA2G6</text></g>

<g id="n-ZNF239"><circle cx="178.3" cy="410" r="1.8"/><text class="m" x="178.3" y="406.3">ZNF239</text></g>
<g id="n-CARD10"><circle cx="191.7" cy="412.7" r="2.2"/><text x="194.9" y="413.8">CARD10</text></g>
<g id="n-RBMY1F"><circle cx="205.7" cy="418.3" r="1.8"/><text x="208.8" y="419.4">RBMY1F</text></g>
<g id="n-ZNF337"><circle cx="192.3" cy="430" r="1.8"/><use href="#wS" transform="translate(192.3 430) scale(1.8)" class="k"/><use href="#wO" transform="translate(192.3 430) scale(1.8)" class="k"/><text x="195.4" y="431.1">ZNF337</text></g>
<g id="n-RBMY1J"><circle cx="199" cy="441.7" r="2"/><text x="202.2" y="442.8">RBMY1J</text></g>
<g id="n-CERS2"><circle cx="238.3" cy="385" r="2"/><text x="241.4" y="386.1">CERS2</text></g>
<g id="n-TECRL"><circle cx="243.3" cy="398.3" r="1.8"/><text x="246.4" y="399.4">TECRL</text></g>
<g id="n-IPAL"><circle cx="256.7" cy="428.3" r="1.8"/><text x="259.8" y="429.4">IPAL</text></g>
<g id="n-LETMD1"><circle cx="240" cy="440" r="1.8"/><text class="m" x="240" y="445.6">LETMD1</text></g>
</g>

<g id="legendA">
<rect x="273.3" y="378.3" width="75" height="72" rx="6" fill="#fff" stroke="#555" stroke-width=".6"/>
<text class="lg" x="285" y="388.4">229E</text>
<text class="lg" x="326" y="388.4">SARS-CoV-2</text>
<circle cx="301.7" cy="390" r="5.5" fill="none" stroke="#333" stroke-width=".6"/>
<path d="M301.7 390V384.5M301.7 390L296.94 392.75M301.7 390L306.46 392.75" stroke="#333" stroke-width=".6" fill="none"/>
<text class="lg" x="301.7" y="405.6">OC43</text>
<text class="lg" x="310" y="418.2" style="font-size:5px">CRISPR screen</text>
<text class="lg" x="310" y="424" style="font-size:5px">enrichment score</text>
<rect x="285" y="426.6" width="46.7" height="5" fill="url(#gA)"/>
<text class="lt" x="286.7" y="438.6">0</text>
<text class="lt" x="308.3" y="438.6">3</text>
<text class="lt" x="329.5" y="438.6">6</text>
<text class="lt" x="305" y="444.4">-log<tspan font-size="3" dy="1">10</tspan><tspan dy="-1">(score)</tspan></text>
</g>

<g id="legendB">
<text x="543" y="7" style="font-weight:bold;font-size:4.6px;fill:#1a1a1a">Enrichment</text>
<text x="543" y="14" style="font-weight:bold;font-size:4.6px;fill:#1a1a1a">-log10(adj.p-value)</text>
<rect x="543.3" y="15.4" width="17" height="5.4" fill="url(#gB)"/>
<text x="544.2" y="26.5" style="font-size:4px;fill:#333;text-anchor:middle">0</text>
<text x="548.9" y="26.5" style="font-size:4px;fill:#333;text-anchor:middle">2</text>
<text x="553.6" y="26.5" style="font-size:4px;fill:#333;text-anchor:middle">4</text>
<text x="558.3" y="26.5" style="font-size:4px;fill:#333;text-anchor:middle">6</text>
</g>

<g id="dendrogram">
<path class="dg" d="M385 33.1H381V38.7H385M385 44.2H379V35.9H381M385 49.8H381V55.4H385M385 60.9H379V52.6H381M385 66.5H381V72.1H385M385 77.6H379V69.3H381M385 83.2H381V88.8H385M385 94.4H379V86H381M385 99.9H381V105.5H385M385 111.1H379V102.7H381M385 116.6H381V122.2H385M385 127.8H379V119.4H381M385 133.3H381V138.9H385M385 144.5H379V136.1H381M385 150.1H381V155.6H385M385 161.2H379V152.85H381M385 166.8H379V172.3H385M385 177.9H381V183.5H385M385 189H379V180.7H381M385 194.6H381V200.2H385M385 205.8H379V197.4H381M385 211.3H381V216.9H385M385 222.5H379V214.1H381M385 228H381V233.6H385M385 239.2H379V230.8H381M385 244.7H381V250.3H385M385 255.9H379V247.5H381M385 261.5H381V267H385M385 272.6H379V264.25H381M385 278.2H381V283.7H385M385 289.3H379V280.95H381M385 294.9H381V300.4H385M385 306H379V297.65H381M385 311.6H381V317.1H385M385 322.7H379V314.35H381"/>
<path class="dg" d="M379 40.05H376V56.75H379M379 73.45H376V90.2H379M379 106.9H376V123.6H379M379 140.3H376V157H379M379 169.55H376V184.85H379M379 201.6H376V218.3H379M379 235H376V251.7H379M379 268.4H376V285.1H379M379 301.8H376V318.5H379M376 48.4H373.5V81.8H376M376 115.25H373.5V148.65H376M376 177.2H373.5V209.95H376M376 243.35H373.5V276.75H376M373.5 65.1H371.5V131.95H373.5M373.5 193.6H371.5V260.05H373.5M371.5 98.5H370V226.8H371.5"/>
<path d="M370 162.65H368.5V310.15H376" stroke="#666" stroke-width=".9" fill="none"/>
</g>

<g id="heatmap">
<rect x="385.5" y="30.3" width="150.88" height="295.21" fill="#f8fafd"/>
<g transform="translate(385.5 30.3) scale(6.56 5.57)">
<rect class="h1" x="1" y="0" width="1" height="1"/><rect class="h1" x="5" y="0" width="1" height="1"/><rect class="h1" x="6" y="0" width="1" height="1"/><rect class="h1" x="7" y="0" width="1" height="1"/><rect class="h1" x="8" y="0" width="1" height="1"/><rect class="h1" x="10" y="0" width="1" height="1"/><rect class="h1" x="12" y="0" width="1" height="1"/><rect class="h5" x="15" y="0" width="1" height="1"/><rect class="h1" x="17" y="0" width="1" height="1"/><rect class="h1" x="18" y="0" width="1" height="1"/>
<rect class="h1" x="1" y="1" width="1" height="1"/><rect class="h1" x="5" y="1" width="1" height="1"/><rect class="h1" x="8" y="1" width="1" height="1"/><rect class="h1" x="10" y="1" width="1" height="1"/><rect class="h1" x="14" y="1" width="1" height="1"/><rect class="h5" x="15" y="1" width="1" height="1"/><rect class="h1" x="19" y="1" width="1" height="1"/><rect class="h1" x="20" y="1" width="1" height="1"/>
<rect class="h1" x="8" y="2" width="1" height="1"/><rect class="h1" x="12" y="2" width="1" height="1"/><rect class="h5" x="15" y="2" width="1" height="1"/>
<rect class="h1" x="4" y="3" width="1" height="1"/><rect class="h4" x="13" y="3" width="1" height="1"/><rect class="h1" x="16" y="3" width="1" height="1"/>
<rect class="h1" x="0" y="4" width="1" height="1"/><rect class="h1" x="7" y="4" width="1" height="1"/><rect class="h1" x="11" y="4" width="1" height="1"/><rect class="h4" x="13" y="4" width="1" height="1"/>
<rect class="h1" x="0" y="5" width="1" height="1"/><rect class="h1" x="7" y="5" width="1" height="1"/><rect class="h4" x="13" y="5" width="1" height="1"/>
<rect class="h4" x="0" y="6" width="1" height="1"/><rect class="h1" x="1" y="6" width="1" height="1"/><rect class="h1" x="3" y="6" width="1" height="1"/><rect class="h1" x="4" y="6" width="1" height="1"/><rect class="h1" x="5" y="6" width="1" height="1"/><rect class="h2" x="7" y="6" width="1" height="1"/><rect class="h1" x="11" y="6" width="1" height="1"/><rect class="h1" x="15" y="6" width="1" height="1"/>
<rect class="h4" x="0" y="7" width="1" height="1"/><rect class="h1" x="4" y="7" width="1" height="1"/><rect class="h1" x="5" y="7" width="1" height="1"/><rect class="h2" x="7" y="7" width="1" height="1"/><rect class="h1" x="11" y="7" width="1" height="1"/><rect class="h1" x="15" y="7" width="1" height="1"/>
<rect class="h4" x="0" y="8" width="1" height="1"/><rect class="h1" x="5" y="8" width="1" height="1"/><rect class="h2" x="7" y="8" width="1" height="1"/><rect class="h1" x="11" y="8" width="1" height="1"/><rect class="h1" x="15" y="8" width="1" height="1"/>
<rect class="h3" x="11" y="9" width="1" height="1"/><rect class="h3" x="11" y="10" width="1" height="1"/><rect class="h3" x="11" y="11" width="1" height="1"/>
<rect class="h3" x="8" y="12" width="1" height="1"/><rect class="h1" x="11" y="12" width="1" height="1"/><rect class="h1" x="18" y="12" width="1" height="1"/>
<rect class="h3" x="8" y="13" width="1" height="1"/><rect class="h3" x="8" y="14" width="1" height="1"/>
<rect class="h1" x="4" y="15" width="1" height="1"/><rect class="h4" x="9" y="15" width="1" height="1"/><rect class="h1" x="11" y="15" width="1" height="1"/><rect class="h1" x="19" y="15" width="1" height="1"/>
<rect class="h4" x="9" y="16" width="1" height="1"/><rect class="h1" x="11" y="16" width="1" height="1"/>
<rect class="h4" x="9" y="17" width="1" height="1"/><rect class="h1" x="12" y="17" width="1" height="1"/>
<rect class="h1" x="5" y="18" width="1" height="1"/><rect class="h3" x="6" y="18" width="1" height="1"/><rect class="h1" x="11" y="18" width="1" height="1"/><rect class="h1" x="19" y="18" width="1" height="1"/>
<rect class="h1" x="5" y="19" width="1" height="1"/><rect class="h3" x="6" y="19" width="1" height="1"/><rect class="h1" x="12" y="19" width="1" height="1"/><rect class="h1" x="16" y="19" width="1" height="1"/>
<rect class="h3" x="6" y="20" width="1" height="1"/>
<rect class="h1" x="4" y="21" width="1" height="1"/><rect class="h2" x="7" y="21" width="1" height="1"/><rect class="h1" x="11" y="21" width="1" height="1"/><rect class="h1" x="13" y="21" width="1" height="1"/><rect class="h1" x="16" y="21" width="1" height="1"/><rect class="h2" x="17" y="21" width="1" height="1"/>
<rect class="h1" x="4" y="22" width="1" height="1"/><rect class="h2" x="7" y="22" width="1" height="1"/><rect class="h1" x="11" y="22" width="1" height="1"/><rect class="h1" x="13" y="22" width="1" height="1"/><rect class="h1" x="16" y="22" width="1" height="1"/><rect class="h2" x="17" y="22" width="1" height="1"/>
<rect class="h1" x="6" y="23" width="1" height="1"/><rect class="h2" x="7" y="23" width="1" height="1"/><rect class="h1" x="11" y="23" width="1" height="1"/><rect class="h1" x="13" y="23" width="1" height="1"/>
<rect class="h1" x="5" y="24" width="1" height="1"/><rect class="h2" x="7" y="24" width="1" height="1"/>
<rect class="h1" x="4" y="25" width="1" height="1"/><rect class="h2" x="7" y="25" width="1" height="1"/><rect class="h1" x="12" y="25" width="1" height="1"/>
<rect class="h1" x="0" y="26" width="1" height="1"/><rect class="h2" x="3" y="26" width="1" height="1"/><rect class="h1" x="5" y="26" width="1" height="1"/><rect class="h1" x="6" y="26" width="1" height="1"/><rect class="h2" x="7" y="26" width="1" height="1"/><rect class="h1" x="9" y="26" width="1" height="1"/><rect class="h1" x="11" y="26" width="1" height="1"/><rect class="h1" x="12" y="26" width="1" height="1"/><rect class="h1" x="15" y="26" width="1" height="1"/>
<rect class="h2" x="3" y="27" width="1" height="1"/><rect class="h1" x="5" y="27" width="1" height="1"/><rect class="h1" x="6" y="27" width="1" height="1"/><rect class="h1" x="7" y="27" width="1" height="1"/><rect class="h1" x="11" y="27" width="1" height="1"/>
<rect class="h2" x="3" y="28" width="1" height="1"/>
<rect class="h1" x="4" y="29" width="1" height="1"/><rect class="h2" x="15" y="29" width="1" height="1"/><rect class="h2" x="16" y="29" width="1" height="1"/>
<rect class="h1" x="13" y="30" width="1" height="1"/><rect class="h2" x="15" y="30" width="1" height="1"/><rect class="h2" x="16" y="30" width="1" height="1"/>
<rect class="h2" x="16" y="31" width="1" height="1"/>
<rect class="h1" x="11" y="32" width="1" height="1"/><rect class="h3" x="20" y="32" width="1" height="1"/>
<rect class="h1" x="1" y="33" width="1" height="1"/><rect class="h1" x="4" y="33" width="1" height="1"/><rect class="h3" x="20" y="33" width="1" height="1"/>
<rect class="h3" x="20" y="34" width="1" height="1"/>
<rect class="h1" x="9" y="35" width="1" height="1"/><rect class="h1" x="13" y="35" width="1" height="1"/><rect class="h3" x="14" y="35" width="1" height="1"/>
<rect class="h1" x="1" y="36" width="1" height="1"/><rect class="h3" x="14" y="36" width="1" height="1"/>
<rect class="h3" x="14" y="37" width="1" height="1"/>
<rect class="h1" x="12" y="38" width="1" height="1"/><rect class="h3" x="21" y="38" width="1" height="1"/>
<rect class="h1" x="12" y="39" width="1" height="1"/><rect class="h3" x="21" y="39" width="1" height="1"/>
<rect class="h3" x="21" y="40" width="1" height="1"/>
<rect class="h5" x="1" y="41" width="1" height="1"/><rect class="h1" x="5" y="41" width="1" height="1"/>
<rect class="h5" x="1" y="42" width="1" height="1"/><rect class="h1" x="5" y="42" width="1" height="1"/>
<rect class="h5" x="1" y="43" width="1" height="1"/>
<rect class="h1" x="5" y="44" width="1" height="1"/><rect class="h1" x="8" y="44" width="1" height="1"/><rect class="h5" x="12" y="44" width="1" height="1"/><rect class="h1" x="14" y="44" width="1" height="1"/>
<rect class="h1" x="8" y="45" width="1" height="1"/><rect class="h1" x="11" y="45" width="1" height="1"/><rect class="h5" x="12" y="45" width="1" height="1"/><rect class="h1" x="13" y="45" width="1" height="1"/><rect class="h1" x="18" y="45" width="1" height="1"/>
<rect class="h5" x="12" y="46" width="1" height="1"/><rect class="h1" x="13" y="46" width="1" height="1"/>
<rect class="h1" x="2" y="47" width="1" height="1"/><rect class="h1" x="7" y="47" width="1" height="1"/><rect class="h1" x="8" y="47" width="1" height="1"/><rect class="h1" x="11" y="47" width="1" height="1"/><rect class="h1" x="12" y="47" width="1" height="1"/><rect class="h1" x="14" y="47" width="1" height="1"/><rect class="h5" x="18" y="47" width="1" height="1"/>
<rect class="h1" x="2" y="48" width="1" height="1"/><rect class="h1" x="12" y="48" width="1" height="1"/><rect class="h5" x="18" y="48" width="1" height="1"/>
<rect class="h5" x="18" y="49" width="1" height="1"/>
<rect class="h4" x="19" y="50" width="1" height="1"/>
<rect class="h5" x="19" y="51" width="1" height="1"/>
<rect class="h5" x="19" y="52" width="1" height="1"/>
</g>
<rect x="385.5" y="30.3" width="150.88" height="295.21" fill="url(#gp)" stroke="#bfc5d0" stroke-width=".5"/>
<g class="hv" transform="translate(388.78 34.6)">
<text x="6.56" y="0">1</text><text x="32.8" y="0">1</text><text x="39.36" y="0">1</text><text x="45.92" y="0">2</text><text x="52.48" y="0">1</text><text x="65.6" y="0">2</text><text x="78.72" y="0">3</text><text class="w" x="98.4" y="0">6</text><text x="111.52" y="0">1</text><text x="118.08" y="0">1</text>
<text x="6.56" y="5.57">1</text><text x="32.8" y="5.57">1</text><text x="52.48" y="5.57">1</text><text x="65.6" y="5.57">1</text><text x="91.84" y="5.57">2</text><text class="w" x="98.4" y="5.57">7</text><text x="124.64" y="5.57">1</text><text x="131.2" y="5.57">1</text>
<text x="52.48" y="11.14">1</text><text x="78.72" y="11.14">1</text><text class="w" x="98.4" y="11.14">4</text>
<text x="26.24" y="16.71">1</text><text class="w" x="85.28" y="16.71">6</text><text x="104.96" y="16.71">2</text>
<text x="0" y="22.28">1</text><text x="45.92" y="22.28">2</text><text x="72.16" y="22.28">1</text><text class="w" x="85.28" y="22.28">6</text>
<text x="0" y="27.85">1</text><text x="45.92" y="27.85">1</text><text class="w" x="85.28" y="27.85">5</text>
<text class="w" x="0" y="33.42">4</text><text x="6.56" y="33.42">1</text><text x="19.68" y="33.42">1</text><text x="26.24" y="33.42">2</text><text x="32.8" y="33.42">1</text><text x="45.92" y="33.42">3</text><text x="72.16" y="33.42">1</text><text x="98.4" y="33.42">1</text>
<text class="w" x="0" y="38.99">4</text><text x="26.24" y="38.99">2</text><text x="32.8" y="38.99">1</text><text x="45.92" y="38.99">3</text><text x="72.16" y="38.99">1</text><text x="98.4" y="38.99">1</text>
<text class="w" x="0" y="44.56">4</text><text x="32.8" y="44.56">1</text><text x="45.92" y="44.56">3</text><text x="72.16" y="44.56">1</text><text x="98.4" y="44.56">1</text>
<text class="w" x="72.16" y="50.13">3</text><text class="w" x="72.16" y="55.7">2</text><text class="w" x="72.16" y="61.27">2</text>
<text class="w" x="52.48" y="66.84">3</text><text x="72.16" y="66.84">1</text><text x="118.08" y="66.84">1</text>
<text class="w" x="52.48" y="72.41">2</text><text class="w" x="52.48" y="77.98">2</text>
<text x="26.24" y="83.55">1</text><text class="w" x="59.04" y="83.55">4</text><text x="72.16" y="83.55">2</text><text x="124.64" y="83.55">1</text>
<text class="w" x="59.04" y="89.12">4</text><text x="72.16" y="89.12">2</text>
<text class="w" x="59.04" y="94.69">3</text><text x="78.72" y="94.69">1</text>
<text x="32.8" y="100.26">1</text><text class="w" x="39.36" y="100.26">3</text><text x="72.16" y="100.26">1</text><text x="124.64" y="100.26">1</text>
<text x="32.8" y="105.83">1</text><text class="w" x="39.36" y="105.83">3</text><text x="78.72" y="105.83">1</text><text x="104.96" y="105.83">1</text>
<text class="w" x="39.36" y="111.4">2</text>
<text x="26.24" y="116.97">1</text><text x="45.92" y="116.97">2</text><text x="72.16" y="116.97">2</text><text x="85.28" y="116.97">1</text><text x="104.96" y="116.97">1</text><text x="111.52" y="116.97">2</text>
<text x="26.24" y="122.54">1</text><text x="45.92" y="122.54">2</text><text x="72.16" y="122.54">1</text><text x="85.28" y="122.54">1</text><text x="104.96" y="122.54">1</text><text x="111.52" y="122.54">2</text>
<text x="39.36" y="128.11">1</text><text x="45.92" y="128.11">3</text><text x="72.16" y="128.11">1</text><text x="85.28" y="128.11">1</text>
<text x="32.8" y="133.68">1</text><text x="45.92" y="133.68">3</text>
<text x="26.24" y="139.25">1</text><text x="45.92" y="139.25">3</text><text x="78.72" y="139.25">1</text>
<text x="0" y="144.82">1</text><text x="19.68" y="144.82">2</text><text x="32.8" y="144.82">2</text><text x="39.36" y="144.82">2</text><text x="45.92" y="144.82">3</text><text x="59.04" y="144.82">1</text><text x="72.16" y="144.82">1</text><text x="78.72" y="144.82">1</text><text x="98.4" y="144.82">2</text>
<text x="19.68" y="150.39">2</text><text x="32.8" y="150.39">1</text><text x="39.36" y="150.39">1</text><text x="45.92" y="150.39">2</text><text x="72.16" y="150.39">1</text>
<text x="19.68" y="155.96">1</text>
<text x="26.24" y="161.53">2</text><text x="98.4" y="161.53">2</text><text x="104.96" y="161.53">3</text>
<text x="85.28" y="167.1">1</text><text x="98.4" y="167.1">2</text><text x="104.96" y="167.1">2</text>
<text x="104.96" y="172.67">2</text>
<text x="72.16" y="178.24">1</text><text class="w" x="131.2" y="178.24">2</text>
<text x="6.56" y="183.81">1</text><text x="26.24" y="183.81">1</text><text class="w" x="131.2" y="183.81">3</text>
<text class="w" x="131.2" y="189.38">2</text>
<text x="59.04" y="194.95">1</text><text x="85.28" y="194.95">1</text><text class="w" x="91.84" y="194.95">3</text>
<text x="6.56" y="200.52">1</text><text class="w" x="91.84" y="200.52">4</text>
<text class="w" x="91.84" y="206.09">3</text>
<text x="78.72" y="211.66">1</text><text class="w" x="137.76" y="211.66">2</text>
<text x="78.72" y="217.23">1</text><text class="w" x="137.76" y="217.23">2</text>
<text class="w" x="137.76" y="222.8">2</text>
<text class="w" x="6.56" y="228.37">4</text><text x="32.8" y="228.37">1</text>
<text class="w" x="6.56" y="233.94">5</text><text x="32.8" y="233.94">1</text>
<text class="w" x="6.56" y="239.51">3</text>
<text x="32.8" y="245.08">1</text><text x="52.48" y="245.08">1</text><text class="w" x="78.72" y="245.08">5</text><text x="91.84" y="245.08">1</text>
<text x="52.48" y="250.65">1</text><text x="72.16" y="250.65">1</text><text class="w" x="78.72" y="250.65">5</text><text x="85.28" y="250.65">1</text><text x="118.08" y="250.65">1</text>
<text class="w" x="78.72" y="256.22">4</text><text x="85.28" y="256.22">1</text>
<text x="13.12" y="261.79">1</text><text x="45.92" y="261.79">1</text><text x="52.48" y="261.79">1</text><text x="72.16" y="261.79">1</text><text x="78.72" y="261.79">1</text><text x="91.84" y="261.79">1</text><text class="w" x="118.08" y="261.79">12</text>
<text x="13.12" y="267.36">1</text><text x="78.72" y="267.36">1</text><text class="w" x="118.08" y="267.36">7</text>
<text class="w" x="118.08" y="272.93">7</text>
<text class="w" x="124.64" y="278.5">4</text>
<text class="w" x="124.64" y="284.07">6</text>
<text class="w" x="124.64" y="289.64">5</text>
</g>
</g>

<g id="rowlabels" class="rl" transform="translate(538 34.8)">
<text y="0">Macroautophagy</text>
<text y="5.57">Phospholipid metabolic process</text>
<text y="11.14">Vesicle mediated transport between endosomal compartments</text>
<text y="16.71">Heart process</text>
<text y="22.28">Regulation of metal ion transport</text>
<text y="27.85">Sodium ion transport</text>
<text y="33.42">Cellular response to steroid hormone stimulus</text>
<text y="38.99">Steroid hormone mediated signaling pathway</text>
<text y="44.56">Intracellular steroid hormone receptor signaling pathway</text>
<text y="50.13">Positive regulation of glycoprotein biosynthetic process</text>
<text y="55.7">Regulation of glycoprotein metabolic process</text>
<text y="61.27">Foregut morphogenesis</text>
<text y="66.84">Rab protein signal transduction</text>
<text y="72.41">Phagolysosome assembly</text>
<text y="77.98">Phagosome maturation</text>
<text y="83.55">Cell cell adhesion via plasma membrane adhesion molecules</text>
<text y="89.12">Homophilic cell adhesion via plasma membrane adhesion molecules</text>
<text y="94.69">Peptidyl tyrosine autophosphorylation</text>
<text y="100.26">Axis specification</text>
<text y="105.83">Somite development</text>
<text y="111.4">Somite rostral caudal axis specification</text>
<text y="116.97">Cell junction organization</text>
<text y="122.54">Cell junction assembly</text>
<text y="128.11">Cell matrix adhesion</text>
<text y="133.68">Negative regulation of intracellular steroid hormone receptor signaling pathway</text>
<text y="139.25">Extracellular structure organization</text>
<text y="144.82">Covalent chromatin modification</text>
<text y="150.39">Maintenance of cell number</text>
<text y="155.96">Regulation of methylation dependent chromatin silencing</text>
<text y="161.53">Feeding behavior</text>
<text y="167.1">G protein coupled receptor signaling pathway coupled to cyclic nucleotide second messenger</text>
<text y="172.67">G protein coupled purinergic nucleotide receptor signaling pathway</text>
<text y="178.24">Peroxisomal transport</text>
<text y="183.81">Fatty acid metabolic process</text>
<text y="189.38">Bile acid biosynthetic process</text>
<text y="194.95">Synaptic vesicle endocytosis</text>
<text y="200.52">Receptor mediated endocytosis</text>
<text y="206.09">Protein depolymerization</text>
<text y="211.66">Alternative mRNA splicing via spliceosome</text>
<text y="217.23">Regulation of mRNA splicing via spliceosome</text>
<text y="222.8">MRNA cis splicing via spliceosome</text>
<text y="228.37">Regulation of cholesterol metabolic process</text>
<text y="233.94">Sterol metabolic process</text>
<text y="239.51">Cellular response to low density lipoprotein particle stimulus</text>
<text y="245.08">Endosome to lysosome transport</text>
<text y="250.65">Organelle membrane fusion</text>
<text y="256.22">Snare complex assembly</text>
<text y="261.79">Golgi vesicle transport</text>
<text y="267.36">Retrograde vesicle mediated transport golgi to endoplasmic reticulum</text>
<text y="272.93">Intra golgi vesicle transport</text>
<text y="278.5">Glycoprotein biosynthetic process</text>
<text y="284.07">Heparan sulfate proteoglycan biosynthetic process</text>
<text y="289.64">Aminoglycan biosynthetic process</text>
</g>

<g id="collabels" class="cl">
<text transform="translate(390.3 328) rotate(-90)">1A</text>
<text transform="translate(396.8 328) rotate(-90)">1B</text>
<text transform="translate(403.4 328) rotate(-90)">1C</text>
<text transform="translate(410 328) rotate(-90)">1D</text>
<text transform="translate(416.5 328) rotate(-90)">1E</text>
<text transform="translate(423.1 328) rotate(-90)">1F</text>
<text transform="translate(429.6 328) rotate(-90)">1G</text>
<text transform="translate(436.2 328) rotate(-90)">2</text>
<text transform="translate(442.8 328) rotate(-90)">3A</text>
<text transform="translate(449.3 328) rotate(-90)">3B</text>
<text transform="translate(455.9 328) rotate(-90)">3C</text>
<text transform="translate(462.4 328) rotate(-90)">3D</text>
<text transform="translate(469 328) rotate(-90)">4</text>
<text transform="translate(475.6 328) rotate(-90)">5A</text>
<text transform="translate(482.1 328) rotate(-90)">5B</text>
<text transform="translate(488.7 328) rotate(-90)">5C</text>
<text transform="translate(495.2 328) rotate(-90)">5D</text>
<text transform="translate(501.8 328) rotate(-90)">6</text>
<text transform="translate(508.4 328) rotate(-90)">7</text>
<text transform="translate(514.9 328) rotate(-90)">8</text>
<text transform="translate(521.5 328) rotate(-90)">9</text>
<text transform="translate(528 328) rotate(-90)">10</text>
<text transform="translate(534.6 328) rotate(-90)">11</text>
</g>
</svg>
